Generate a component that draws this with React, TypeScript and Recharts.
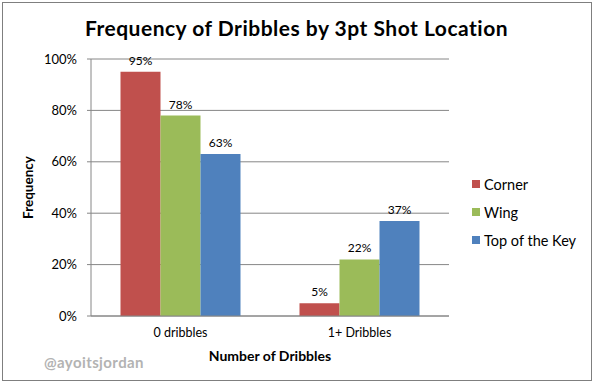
import React from 'react';
import { BarChart, Bar, XAxis, YAxis, CartesianGrid, Legend, LabelList } from 'recharts';

const categories = ['0 dribbles', '1+ Dribbles'];
const corner = [95, 5];
const wing = [78, 22];
const topOfKey = [63, 37];
const yTicks = [0, 20, 40, 60, 80, 100];

const series = [
  { key: 'corner', name: 'Corner', color: '#C0504D', values: corner },
  { key: 'wing', name: 'Wing', color: '#9BBB59', values: wing },
  { key: 'top', name: 'Top of the Key', color: '#4F81BD', values: topOfKey },
];

const data = categories.map((c, i) => {
  const row: Record<string, string | number> = { category: c };
  series.forEach((s) => {
    row[s.key] = s.values[i];
  });
  return row;
});

const font = 'Lato, "Open Sans", sans-serif';
const gray = '#868686';

const renderLegend = () => (
  <div style={{ fontFamily: font, fontSize: 14.5, color: '#000' }}>
    {series.map((s) => (
      <div key={s.key} style={{ display: 'flex', alignItems: 'center', height: 28 }}>
        <span style={{ width: 8, height: 8, background: s.color, marginRight: 4, display: 'inline-block' }} />
        <span>{s.name}</span>
      </div>
    ))}
  </div>
);

export default function App() {
  return (
    <div style={{ position: 'absolute', left: 0, top: 0, width: 593, height: 383, background: '#fff' }}>
      <div
        style={{
          position: 'absolute',
          left: 2,
          top: 2,
          width: 588,
          height: 377,
          border: '1.5px solid #7f7f7f',
        }}
      />
      <div
        style={{
          position: 'absolute',
          left: 0,
          top: 15,
          width: 593,
          textAlign: 'center',
          fontFamily: font,
          fontWeight: 700,
          fontSize: 21,
          letterSpacing: 0.5,
          color: '#000',
        }}
      >
        Frequency of Dribbles by 3pt Shot Location
      </div>
      <div
        style={{
          position: 'absolute',
          left: 44,
          top: 353,
          fontFamily: font,
          fontWeight: 700,
          fontSize: 15,
          color: '#b3b3b3',
          letterSpacing: 0.4,
        }}
      >
        @ayoitsjordan
      </div>
      <div style={{ position: 'absolute', left: 0, top: 0 }}>
        <BarChart
          width={593}
          height={383}
          data={data}
          margin={{ top: 59, right: 144, bottom: 17, left: 21 }}
          barCategoryGap={29.5}
          barGap={0}
        >
          <CartesianGrid vertical={false} stroke={gray} strokeWidth={1} />
          <XAxis
            dataKey="category"
            height={50}
            tickLine={false}
            axisLine={{ stroke: gray }}
            tick={{ fontFamily: font, fontSize: 12.5, fill: '#000' }}
            tickMargin={6}
            label={{
              value: 'Number of Dribbles',
              position: 'insideBottom',
              offset: 5,
              style: { fontFamily: font, fontSize: 14, fontWeight: 700, fill: '#000' },
            }}
          />
          <YAxis
            width={70}
            domain={[0, 100]}
            ticks={yTicks}
            interval={0}
            tickFormatter={(v) => `${v}%`}
            tickSize={4}
            tickMargin={10}
            tickLine={{ stroke: gray }}
            axisLine={{ stroke: gray }}
            tick={{ fontFamily: font, fontSize: 13, fill: '#000' }}
            label={{
              value: 'Frequency',
              angle: -90,
              position: 'insideLeft',
              offset: 7,
              style: { textAnchor: 'middle', fontFamily: font, fontSize: 13.5, fontWeight: 700, fill: '#000' },
            }}
          />
          <Legend
            layout="vertical"
            align="center"
            verticalAlign="middle"
            content={renderLegend}
            wrapperStyle={{ left: 472, top: 170, width: 120 }}
          />
          {series.map((s) => (
            <Bar key={s.key} dataKey={s.key} name={s.name} fill={s.color} isAnimationActive={false}>
              <LabelList
                dataKey={s.key}
                position="top"
                offset={7}
                formatter={(v: number) => `${v}%`}
                style={{ fontFamily: font, fontSize: 12, fill: '#000' }}
              />
            </Bar>
          ))}
        </BarChart>
      </div>
    </div>
  );
}
